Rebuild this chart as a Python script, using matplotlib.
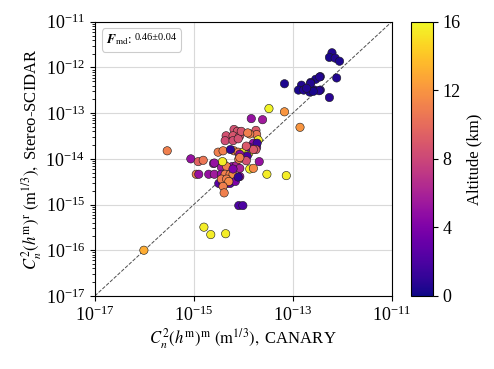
import matplotlib
matplotlib.use("Agg")
import matplotlib.pyplot as plt
import matplotlib.ticker as mticker
from matplotlib.offsetbox import AnchoredOffsetbox, TextArea, HPacker
import numpy as np

plt.rcParams['font.family'] = ['Liberation Serif', 'DejaVu Serif']
plt.rcParams['mathtext.fontset'] = 'stix'
plt.rcParams['font.size'] = 12

# C_n^2 measured by CANARY (x) and Stereo-SCIDAR (y), altitude of each layer (km)
canary = [
    6.2e-13, 5.5e-13, 7.2e-13, 8.8e-13, 7.7e-13, 3.6e-13, 2.9e-13, 2.3e-13, 1.5e-13, 1.3e-13,
    1.66e-13, 2.2e-13, 2.75e-13, 3.6e-13, 5.5e-13, 6.8e-14, 2.3e-13, 3.4e-13, 2.6e-13, 1.9e-13,
    3.5e-13,
    3.3e-14, 6.8e-14, 1.4e-13, 1.45e-14, 2.45e-14,
    6.5e-15, 7.6e-15, 4.5e-15, 6.2e-15, 8.5e-15, 4.3e-15, 6.2e-15, 7.9e-15, 9.1e-15, 1.8e-14,
    1.86e-14, 1.35e-14, 2.0e-14, 1.6e-14, 3.1e-15, 3.9e-15, 6.5e-15, 7.9e-15, 1.15e-14, 1.0e-14,
    1.3e-14, 1.86e-14, 1.3e-14, 1.2e-14, 2.9e-16, 8.7e-16, 1.23e-15, 1.55e-15, 2.5e-15, 3.9e-15,
    3.6e-15, 6.0e-15, 7.2e-15, 8.5e-15, 4.6e-15, 8.1e-15, 1.15e-14, 2.1e-14, 1.35e-14, 1.6e-14,
    3.0e-14, 7.4e-14,
    1.12e-15, 1.26e-15, 2.0e-15, 2.6e-15, 3.6e-15, 4.3e-15, 5.4e-15, 6.2e-15, 8.5e-15,
    3.2e-15, 3.9e-15, 4.6e-15, 5.4e-15, 6.9e-15,
    3.6e-15, 4.6e-15, 5.1e-15, 3.9e-15, 4.1e-15,
    8.1e-15, 9.8e-15,
    1.6e-15, 2.2e-15, 4.4e-15, 9.8e-17,
    3.8e-15, 2.6e-15, 1.23e-14, 1.9e-14, 1.8e-14, 1.6e-14, 5.5e-15, 7.9e-15, 8.5e-15, 1.15e-14,
    6.2e-15, 8.5e-15,
]
scidar = [
    2.1e-12, 1.66e-12, 1.6e-12, 1.37e-12, 5.9e-13, 6.3e-13, 5.5e-13, 4.7e-13, 4.1e-13, 3.2e-13,
    3.2e-13, 2.9e-13, 3.2e-13, 3.2e-13, 2.2e-13, 4.4e-13, 4.5e-13, 3.1e-13, 3.0e-13, 3.5e-13,
    6.2e-13,
    1.26e-13, 1.07e-13, 4.9e-14, 7.6e-14, 7.2e-14,
    4.4e-14, 4.0e-14, 3.2e-14, 3.2e-14, 3.2e-14, 2.5e-14, 2.5e-14, 2.75e-14, 4.0e-14, 4.2e-14,
    3.4e-14, 3.5e-14, 2.6e-14, 2.2e-14, 1.4e-14, 1.5e-14, 1.5e-14, 1.4e-14, 1.8e-14, 1.4e-14,
    1.35e-14, 1.8e-14, 1.8e-14, 1.15e-14, 1.5e-14, 1.0e-14, 8.7e-15, 9.3e-15, 7.9e-15, 8.3e-15,
    6.6e-15, 6.8e-15, 7.1e-15, 6.2e-15, 6.8e-15, 9.8e-15, 9.1e-15, 8.7e-15, 6.0e-15, 6.2e-15,
    4.6e-15, 4.3e-15,
    4.6e-15, 4.6e-15, 4.6e-15, 4.6e-15, 4.6e-15, 4.6e-15, 4.6e-15, 4.6e-15, 4.1e-15,
    2.9e-15, 2.9e-15, 2.9e-15, 2.9e-15, 3.2e-15,
    3.6e-15, 3.6e-15, 3.2e-15, 2.5e-15, 1.8e-15,
    9.5e-16, 9.5e-16,
    3.2e-16, 2.2e-16, 2.3e-16, 1.0e-16,
    8.7e-15, 8.1e-15, 3.7e-14, 2.2e-14, 1.6e-14, 1.6e-14, 1.6e-14, 4.0e-15, 1.26e-14, 1.9e-14,
    6.0e-15, 1.07e-14,
]
altitude = [
    0.5, 0.3, 0.6, 0.4, 0.5, 0.7, 0.4, 0.6, 0.5, 0.3,
    0.6, 0.4, 0.5, 0.7, 0.8, 0.4, 0.5, 0.6, 0.3, 0.5,
    0.6,
    15.8, 12.0, 12.0, 5.0, 5.5,
    8.5, 8.7, 8.5, 8.8, 8.6, 8.3, 8.4, 8.5, 8.7, 9.0,
    10.5, 11.0, 15.5, 5.0, 11.0, 11.0, 11.5, 11.0, 8.5, 15.5,
    15.5, 4.5, 3.0, 2.0, 11.0, 5.0, 9.5, 10.5, 5.0, 15.5,
    5.5, 5.0, 6.0, 6.0, 11.0, 11.0, 8.5, 5.0, 15.5, 11.5,
    15.5, 15.5,
    11.0, 5.0, 5.0, 5.5, 5.0, 11.0, 11.0, 11.5, 5.0,
    2.5, 2.5, 2.0, 2.5, 4.0,
    11.0, 11.0, 11.5, 11.0, 11.0,
    2.0, 2.0,
    15.5, 15.5, 15.5, 13.0,
    15.5, 5.0, 11.0, 1.5, 9.0, 9.0, 1.0, 1.0, 4.5, 9.0,
    4.0, 11.0,
]
f_md = "0.46±0.04"

lims = (1e-17, 1e-11)

fig = plt.figure(figsize=(4.94, 3.69), dpi=100)
ax = fig.add_axes([0.192, 0.198, 0.601, 0.743])
cax = fig.add_axes([0.832, 0.198, 0.0445, 0.743])

ax.plot(lims, lims, ls='--', color='0.3', lw=0.7, zorder=1)
sc = ax.scatter(canary, scidar, c=altitude, cmap='plasma', vmin=0, vmax=16,
                s=36, edgecolors='0.1', linewidths=0.4, zorder=3)

ax.set_xscale('log')
ax.set_yscale('log')
ax.set_xlim(lims)
ax.set_ylim(lims)
ax.xaxis.set_major_locator(mticker.FixedLocator([1e-17, 1e-15, 1e-13, 1e-11]))
ax.xaxis.set_minor_locator(mticker.NullLocator())
ax.yaxis.set_major_locator(mticker.LogLocator(base=10, numticks=10))
ax.yaxis.set_minor_locator(mticker.LogLocator(base=10, subs=np.arange(2, 10), numticks=10))
ax.yaxis.set_minor_formatter(mticker.NullFormatter())
ax.grid(True, which='major', color='0.85', lw=0.8, zorder=0)
ax.set_axisbelow(True)
ax.tick_params(labelsize=13)

ax.set_xlabel(r'$C_n^2(h^{\mathrm{m}})^{\mathrm{m}}\ (\mathrm{m}^{1/3}),$ CANARY', fontsize=12, labelpad=1)
ax.set_ylabel(r'$C_n^2(h^{\mathrm{m}})^{\mathrm{r}}\ (\mathrm{m}^{1/3}),$ Stereo-SCIDAR', fontsize=12, labelpad=1)

# F_md box: big symbol, small value, one rounded frame
t1 = TextArea(r'$\mathbfit{F}_{\mathrm{md}}$:', textprops=dict(fontsize=9.5))
t2 = TextArea(f_md, textprops=dict(fontsize=7.5))
pack = HPacker(children=[t1, t2], align='top', pad=0, sep=2)
box = AnchoredOffsetbox(loc='upper left', child=pack, pad=0.25, borderpad=0.4,
                        frameon=True, bbox_to_anchor=(0.0, 1.0),
                        bbox_transform=ax.transAxes)
box.patch.set_boxstyle('round,pad=0,rounding_size=0.2')
box.patch.set_edgecolor('0.8')
box.patch.set_linewidth(0.8)
ax.add_artist(box)

cb = fig.colorbar(sc, cax=cax, ticks=[0, 4, 8, 12, 16])
cb.set_label('Altitude (km)', fontsize=12)
cb.ax.tick_params(labelsize=13)

fig.savefig('out.png', dpi=100)
